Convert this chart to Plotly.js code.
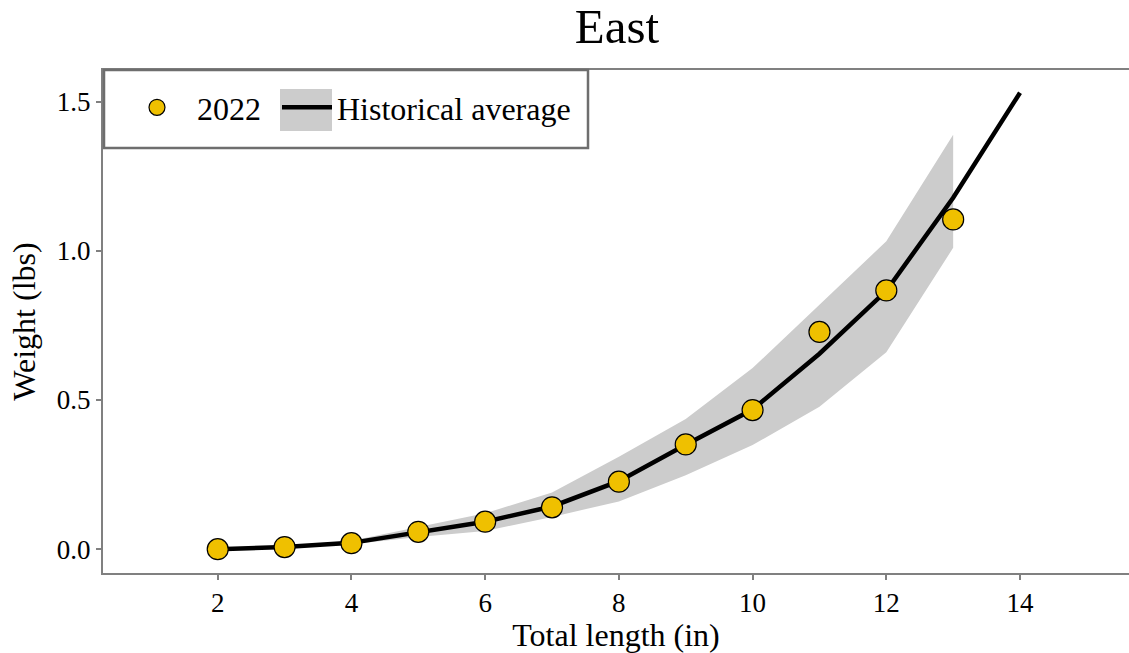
<!DOCTYPE html>
<html>
<head>
<meta charset="utf-8">
<script src="https://cdn.plot.ly/plotly-3.0.1.min.js"></script>
<style>html,body{margin:0;padding:0;background:#fff;}#chart{width:1129px;height:653px;}</style>
</head>
<body>
<div id="chart"></div>
<script>
// Data
var lengths2022 = [2, 3, 4, 5, 6, 7, 8, 9, 10, 11, 12, 13];
var weights2022 = [0.0, 0.007, 0.02, 0.058, 0.092, 0.14, 0.226, 0.351, 0.466, 0.728, 0.867, 1.105];

var histLengths = [2, 3, 4, 5, 6, 7, 8, 9, 10, 11, 12, 13, 14];
var histAverage = [0.0, 0.007, 0.021, 0.055, 0.092, 0.143, 0.228, 0.35, 0.468, 0.655, 0.866, 1.178, 1.53];

var bandLengths = [2, 3, 4, 5, 6, 7, 8, 9, 10, 11, 12, 13];
var bandLower = [0.0, 0.004, 0.016, 0.041, 0.061, 0.108, 0.16, 0.248, 0.349, 0.477, 0.66, 1.01];
var bandUpper = [0.0, 0.011, 0.028, 0.075, 0.12, 0.19, 0.31, 0.436, 0.607, 0.819, 1.032, 1.389];

var titleText = 'East';
var xTitle = 'Total length (in)';
var yTitle = 'Weight (lbs)';
var seriesNames = ['2022', 'Historical average'];

var FONT = 'Liberation Serif, Times New Roman, serif';
var AXIS_GREY = '#808080';

var traces = [
  {x: bandLengths, y: bandLower, type: 'scatter', mode: 'lines', line: {width: 0, color: 'rgba(0,0,0,0)'},
   showlegend: false, hoverinfo: 'skip'},
  {x: bandLengths, y: bandUpper, type: 'scatter', mode: 'lines', fill: 'tonexty', fillcolor: '#cccccc',
   line: {width: 0, color: 'rgba(0,0,0,0)'}, showlegend: false, hoverinfo: 'skip'},
  {x: histLengths, y: histAverage, type: 'scatter', mode: 'lines', name: seriesNames[1], legend: 'legend2',
   line: {color: '#000000', width: 4.5}},
  {x: lengths2022, y: weights2022, type: 'scatter', mode: 'markers', name: seriesNames[0], legend: 'legend',
   marker: {size: 21, color: '#EFC000', line: {color: '#000000', width: 1.2}}}
];

function px2x(p) { return (p - 103) / 1026; }
function px2y(p) { return (573 - p) / 503; }

var legendFont = {family: FONT, size: 32, color: '#000000'};

var layout = {
  width: 1129, height: 653,
  paper_bgcolor: '#ffffff', plot_bgcolor: '#ffffff',
  margin: {l: 103, r: 0, t: 70, b: 80, pad: 0},
  font: {family: FONT, size: 27, color: '#000000'},
  title: {text: titleText, font: {family: FONT, size: 49, color: '#000000'},
          x: 0.5465, xanchor: 'center', xref: 'container', y: 1 - 26 / 653, yanchor: 'middle', yref: 'container'},
  xaxis: {
    range: [0.284, 15.63], dtick: 2, tick0: 0,
    showgrid: false, zeroline: false,
    showline: true, linecolor: AXIS_GREY, linewidth: 2, mirror: true,
    ticks: 'outside', ticklen: 5, tickwidth: 2, tickcolor: AXIS_GREY,
    tickfont: {family: FONT, size: 27, color: '#000000'},
    title: {text: xTitle, font: {family: FONT, size: 32, color: '#000000'}, standoff: 5}
  },
  yaxis: {
    range: [-0.08, 1.606], dtick: 0.5, tick0: 0, tickformat: '.1f',
    showgrid: false, zeroline: false,
    showline: true, linecolor: AXIS_GREY, linewidth: 2,
    ticks: 'outside', ticklen: 5, tickwidth: 2, tickcolor: AXIS_GREY,
    tickfont: {family: FONT, size: 27, color: '#000000'},
    title: {text: yTitle, font: {family: FONT, size: 32, color: '#000000'}, standoff: 12}
  },
  showlegend: true,
  legend: {
    orientation: 'h', x: px2x(117), xanchor: 'left', y: px2y(80), yanchor: 'top',
    bgcolor: 'rgba(0,0,0,0)', borderwidth: 0, itemwidth: 70, font: legendFont
  },
  legend2: {
    orientation: 'h', x: px2x(277), xanchor: 'left', y: px2y(80), yanchor: 'top',
    bgcolor: 'rgba(0,0,0,0)', borderwidth: 0, itemwidth: 50, font: legendFont
  },
  shapes: [
    {type: 'rect', xref: 'paper', yref: 'paper', layer: 'above',
     x0: px2x(104), x1: px2x(588), y0: px2y(148), y1: px2y(70),
     fillcolor: '#ffffff', line: {color: '#6e6e6e', width: 2.5}},
    {type: 'rect', xref: 'paper', yref: 'paper', layer: 'above',
     x0: px2x(280), x1: px2x(332), y0: px2y(131), y1: px2y(89),
     fillcolor: '#cccccc', line: {width: 0}}
  ]
};

Plotly.newPlot('chart', traces, layout, {displayModeBar: false, staticPlot: true});
</script>
</body>
</html>
